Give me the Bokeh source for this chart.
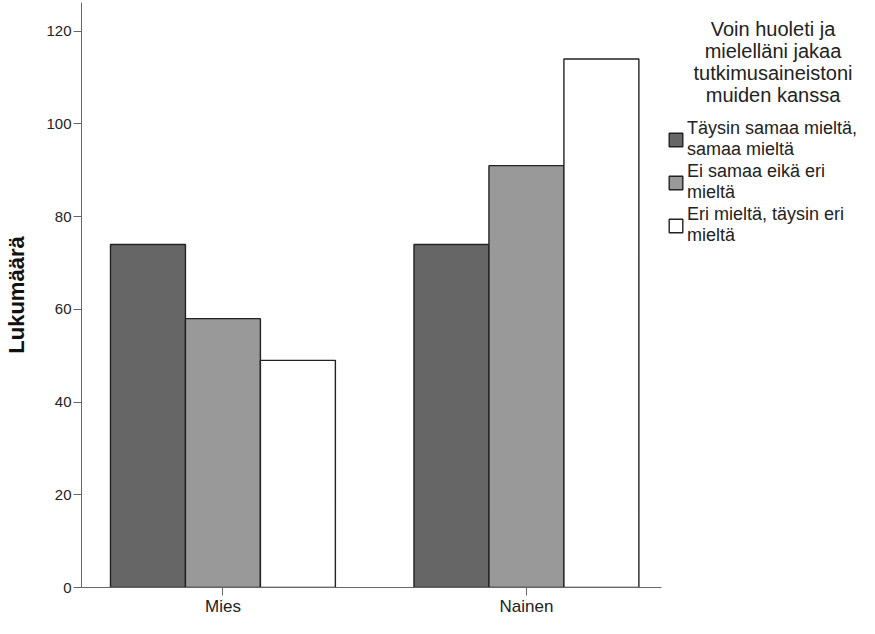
from bokeh.plotting import figure
from bokeh.models import Range1d, FixedTicker, Legend, LegendItem, ColumnDataSource, Label
from bokeh.embed import file_html
from bokeh.resources import INLINE

categories = ["Mies", "Nainen"]
series_names = ["Täysin samaa mieltä,\nsamaa mieltä", "Ei samaa eikä eri\nmieltä", "Eri mieltä, täysin eri\nmieltä"]
agree = [74, 74]
neutral = [58, 91]
disagree = [49, 114]
y_ticks = [0, 20, 40, 60, 80, 100, 120]
legend_title = "Voin huoleti ja\nmielelläni jakaa\ntutkimusaineistoni\nmuiden kanssa"

colors = ["#666666", "#999999", "#ffffff"]
series = [agree, neutral, disagree]
bw = 0.247
offsets = [-bw, 0.0, bw]

FONT = "Liberation Sans"
W, H = 859, 618
LEFT, TOP, BOTTOM = 81, 2, 29
FW, FH = W - LEFT, H - TOP - BOTTOM
PX_PER_X = 303.5
X0 = -0.466
X_AXIS_END = X0 + 580 / PX_PER_X
X1 = X0 + FW / PX_PER_X
Y1 = 126.2
PX_PER_Y = FH / Y1

p = figure(width=W, height=H, output_backend="svg", toolbar_location=None,
           x_range=Range1d(X0, X1), y_range=Range1d(0, Y1),
           min_border_left=LEFT, min_border_right=0, min_border_top=TOP, min_border_bottom=BOTTOM)
p.outline_line_color = None
p.grid.visible = False
p.background_fill_color = "white"

xs = list(range(len(categories)))
renderers = []
for vals, off, col in zip(series, offsets, colors):
    src = ColumnDataSource(dict(x=[i + off for i in xs], top=vals))
    r = p.vbar(x="x", top="top", bottom=0, width=bw, source=src, fill_color=col,
               line_color="#222222", line_width=1.4)
    renderers.append(r)

p.xaxis.ticker = FixedTicker(ticks=xs)
p.xaxis.major_label_overrides = {i: c for i, c in enumerate(categories)}
p.xaxis.bounds = (X0, X_AXIS_END)
p.yaxis.ticker = FixedTicker(ticks=y_ticks)
p.yaxis.axis_label = "Lukumäärä"
p.yaxis.axis_label_text_font = FONT
p.yaxis.axis_label_text_font_style = "bold"
p.yaxis.axis_label_text_font_size = "22px"
p.yaxis.axis_label_text_color = "#111111"
p.yaxis.axis_label_standoff = 14
for ax in (p.xaxis, p.yaxis):
    ax.major_label_text_font = FONT
    ax.major_label_text_color = "#222222"
    ax.axis_line_color = "#666666"
    ax.major_tick_line_color = "#666666"
    ax.major_tick_out = 8
    ax.major_tick_in = 0
    ax.minor_tick_line_color = None
p.yaxis.major_label_text_font_size = "15px"
p.xaxis.major_label_text_font_size = "17px"
p.xaxis.major_label_standoff = 1
p.yaxis.major_label_standoff = 2

# legend title (multi-line, centred above the legend entries)
title = Label(x=X0 + (772.5 - LEFT) / PX_PER_X, y=Y1 - 16 / PX_PER_Y, text=legend_title,
              text_align="center", text_baseline="top", text_font=FONT,
              text_font_size="20px", text_color="#222222", text_line_height=1.0)
p.add_layout(title)

items = [LegendItem(label=n, renderers=[r]) for n, r in zip(series_names, renderers)]
legend = Legend(items=items, location=(586, 341),
                label_text_font=FONT, label_text_font_size="18px", label_text_color="#222222",
                label_text_line_height=0.95,
                glyph_width=17, glyph_height=17, label_standoff=3, spacing=1,
                padding=0, margin=0, border_line_color=None, background_fill_alpha=0)
p.add_layout(legend)

open("out.html", "w").write(file_html(p, INLINE))
